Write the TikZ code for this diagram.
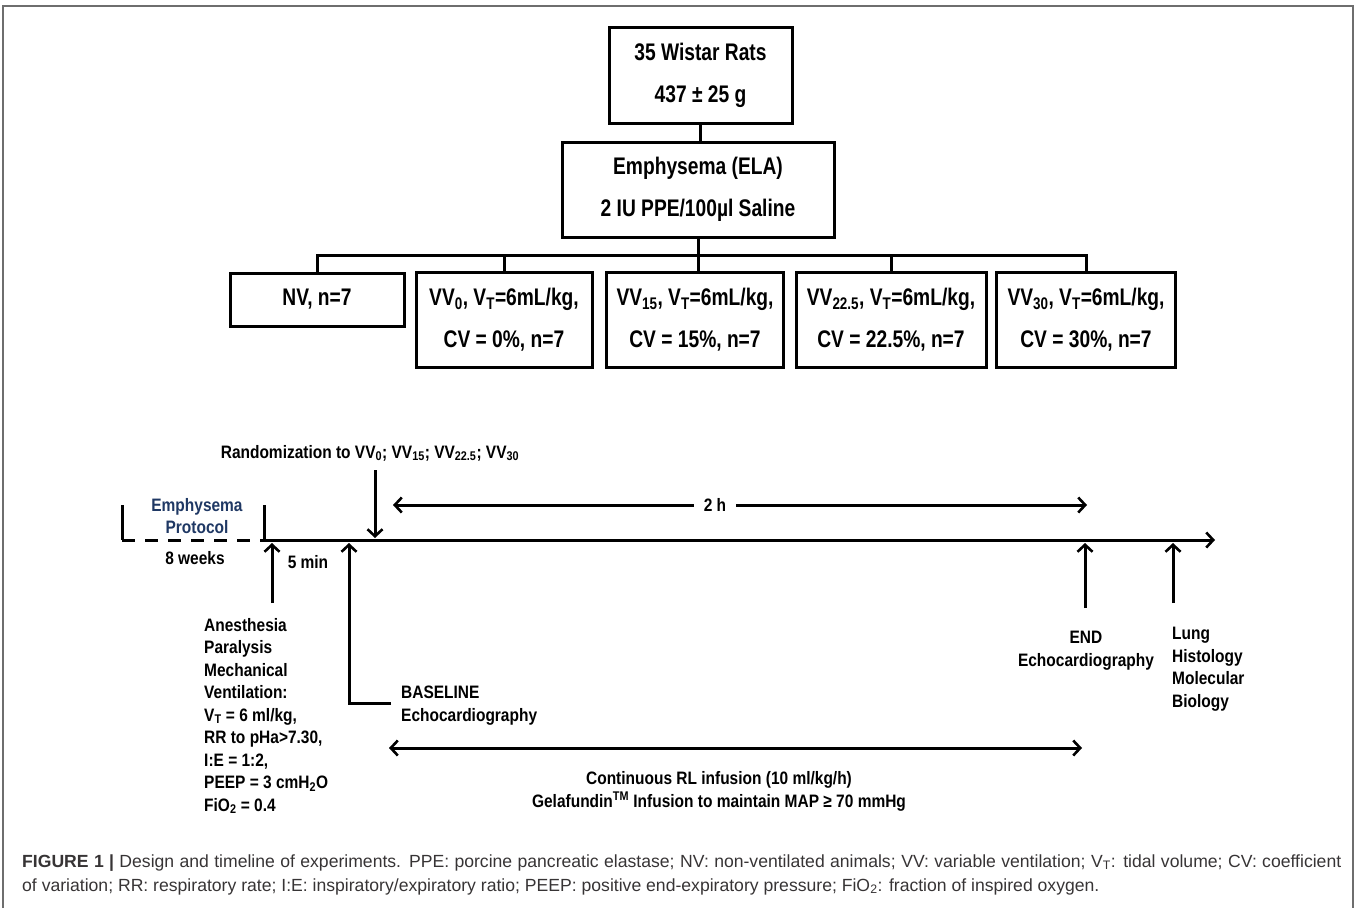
\documentclass[tikz,border=0pt]{standalone}
\usepackage{fontspec}
\setmainfont{Liberation Sans}
\newfontfamily\nar{Liberation Sans}[FakeStretch=0.8]
\newfontfamily\narl{Liberation Sans}[FakeStretch=0.86]
\newfontfamily\capfont{Liberation Sans}
\usetikzlibrary{arrows.meta}
\definecolor{navy}{RGB}{31,56,100}
\definecolor{framegray}{RGB}{110,110,110}
\definecolor{captxt}{RGB}{55,52,53}
\begin{document}
\begin{tikzpicture}[x=1pt,y=-1pt,
 box/.style={draw, line width=3pt, inner sep=0pt, align=center, font=\nar\bfseries\fontsize{24}{42}\selectfont},
 lbl/.style={inner sep=0pt, font=\narl\bfseries\fontsize{18}{22.5}\selectfont},
 ln/.style={line width=3pt},
 arr/.style={line width=3pt, -{Straight Barb[length=7pt,width=15pt,line width=2.6pt]}},
 darr/.style={line width=3pt, {Straight Barb[length=7pt,width=15pt,line width=2.6pt]}-{Straight Barb[length=7pt,width=15pt,line width=2.6pt]}},
 captext/.style={inner sep=0pt, anchor=base west, font=\capfont\fontsize{17.6}{24}\selectfont, text=captxt}
]
\useasboundingbox (0,0) rectangle (1357,908);
% frame
\coordinate (f1) at (3,908); \coordinate (f2) at (3,6); \coordinate (f3) at (1353,6); \coordinate (f4) at (1353,908);
\draw[framegray, line width=1.5pt] (f1) -- (f2) -- (f3) -- (f4);

% top boxes
\node[box, minimum width=183pt, minimum height=96pt] (rats) at (700.5,75) {35 Wistar Rats\\437 ± 25 g};
\node[box, minimum width=272pt, minimum height=95pt] (ela) at (698,189.5) {Emphysema (ELA)\\2 IU PPE/100µl Saline};
\draw[ln] (rats.south) -- (rats.south |- ela.north);

\node[box, minimum width=174pt, minimum height=53pt] (nv) at (317,299.5) {NV, n=7};
\node[box, minimum width=176pt, minimum height=95pt] (vv0) at (504,319.5) {VV\textsubscript{0}, V\textsubscript{T}=6mL/kg,\\CV = 0\%, n=7};
\node[box, minimum width=177pt, minimum height=95pt] (vv15) at (695,319.5) {VV\textsubscript{15}, V\textsubscript{T}=6mL/kg,\\CV = 15\%, n=7};
\node[box, minimum width=190pt, minimum height=95pt] (vv22) at (891,319.5) {VV\textsubscript{22.5}, V\textsubscript{T}=6mL/kg,\\CV = 22.5\%, n=7};
\node[box, minimum width=179pt, minimum height=95pt] (vv30) at (1086,319.5) {VV\textsubscript{30}, V\textsubscript{T}=6mL/kg,\\CV = 30\%, n=7};
\coordinate (bus) at (700,255);
\draw[ln] (ela.south) -- (ela.south |- vv15.north);
\draw[ln] (nv.north) -- (nv.north |- bus) -- (vv30.north |- bus) -- (vv30.north);
\draw[ln] (vv0.north |- bus) -- (vv0.north);
\draw[ln] (vv22.north |- bus) -- (vv22.north);

% timeline
\coordinate (t0) at (122,540); \coordinate (t0up) at (122,505);
\coordinate (ta) at (264,540); \coordinate (taup) at (264,505);
\coordinate (tend) at (1215,540);
\draw[ln] (t0up) -- (t0);
\draw[ln, dash pattern=on 13pt off 10pt] (t0) -- (ta);
\draw[ln] (taup) -- (ta);
\draw[arr] (ta) -- (tend);

\node[lbl, align=center, text=navy] (emp) at (197,516) {Emphysema\\Protocol};
\node[lbl] (weeks) at (195,558) {8 weeks};
\node[lbl] (fivemin) at (308,562) {5 min};

\node[lbl] (rand) at (370,453) {Randomization to VV\textsubscript{0}; VV\textsubscript{15}; VV\textsubscript{22.5}; VV\textsubscript{30}};
\coordinate (rtop) at (375,470); \coordinate (rtip) at (375,538);
\draw[arr] (rtop) -- (rtip);

\coordinate (abot) at (272,603); \coordinate (atip) at (272,543);
\draw[arr] (abot) -- (atip);
\node[lbl, align=left, anchor=base west] (mech) at (204,811) {Anesthesia\\Paralysis\\Mechanical\\Ventilation:\\V\textsubscript{T} = 6 ml/kg,\\RR to pHa>7.30,\\I:E = 1:2,\\PEEP = 3 cmH\textsubscript{2}O\\FiO\textsubscript{2} = 0.4};

\coordinate (bstart) at (391,703); \coordinate (bcorner) at (349,703); \coordinate (btip) at (349,543);
\draw[arr] (bstart) -- (bcorner) -- (btip);
\node[lbl, align=left, anchor=base west] (base) at (401,721) {BASELINE\\Echocardiography};

\node[lbl, inner xsep=10pt] (twoh) at (715,505) {2 h};
\coordinate (hL) at (393,505); \coordinate (hR) at (1087,505);
\draw[arr] (twoh.west) -- (hL);
\draw[arr] (twoh.east) -- (hR);

\coordinate (ebot) at (1085,608); \coordinate (etip) at (1085,543);
\draw[arr] (ebot) -- (etip);
\node[lbl, align=center, anchor=base] (endn) at (1086,666) {END\\Echocardiography};

\coordinate (lbot) at (1173,603); \coordinate (ltip) at (1173,543);
\draw[arr] (lbot) -- (ltip);
\node[lbl, align=left, anchor=base west] (lung) at (1172,707) {Lung\\Histology\\Molecular\\Biology};

\coordinate (iL) at (389,748); \coordinate (iR) at (1082,748);
\draw[darr] (iL) -- (iR);
\node[lbl, align=center, anchor=base] (inf) at (719,807) {Continuous RL infusion (10 ml/kg/h)\\Gelafundin\textsuperscript{TM} Infusion to maintain MAP ≥ 70 mmHg};

% caption
\node[captext] (cap1) at (22,867) {\makebox[1319pt][s]{\textbf{FIGURE 1 |} Design and timeline of experiments. PPE: porcine pancreatic elastase; NV: non-ventilated animals; VV: variable ventilation; V\textsubscript{T}: tidal volume; CV: coefficient}};
\node[captext] (cap2) at (22,891) {of variation; RR: respiratory rate; I:E: inspiratory/expiratory ratio; PEEP: positive end-expiratory pressure; FiO\textsubscript{2}: fraction of inspired oxygen.};
\end{tikzpicture}
\end{document}
